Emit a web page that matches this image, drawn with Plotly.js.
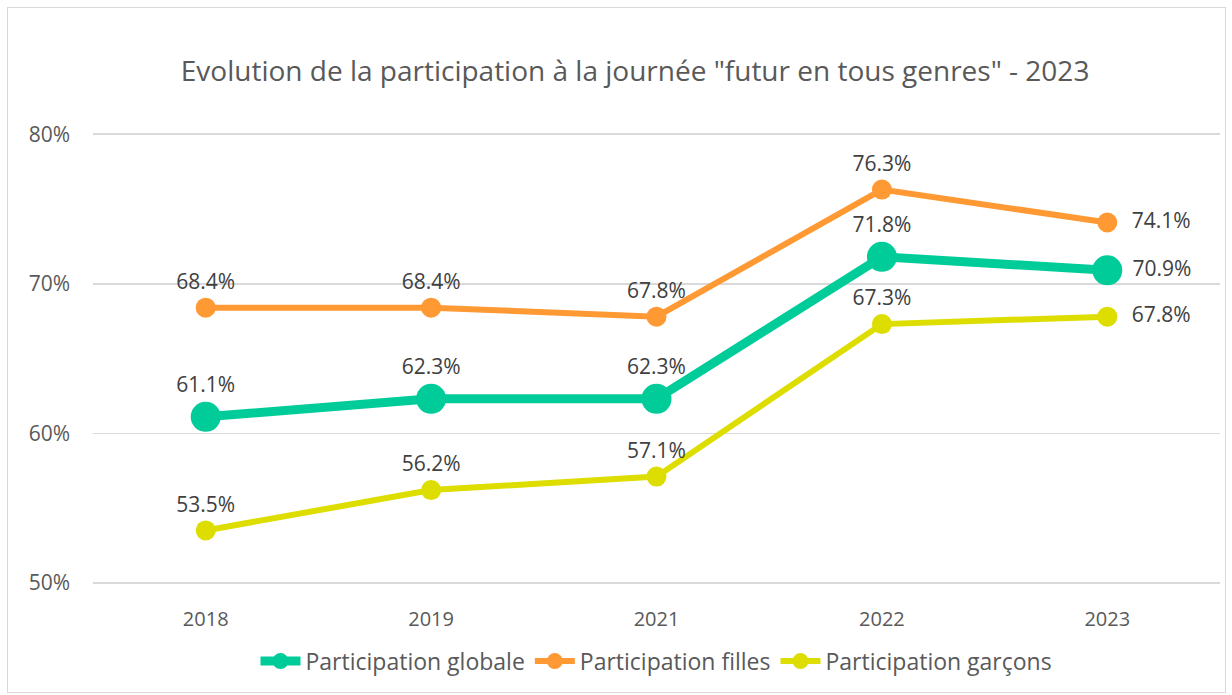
<!DOCTYPE html>
<html>
<head>
<meta charset="utf-8">
<script src="https://cdn.plot.ly/plotly-3.0.1.min.js"></script>
<style>
html,body{margin:0;padding:0;background:#fff;}
#chart{width:1232px;height:695px;}
#frame{position:absolute;left:7px;top:7px;width:1217px;height:684px;border:1px solid #d9d9d9;pointer-events:none;}
</style>
</head>
<body>
<div id="chart"></div>
<div id="frame"></div>
<script>
const years = ['2018', '2019', '2021', '2022', '2023'];
const globale = [61.1, 62.3, 62.3, 71.8, 70.9];
const filles = [68.4, 68.4, 67.8, 76.3, 74.1];
const garcons = [53.5, 56.2, 57.1, 67.3, 67.8];
const seriesNames = ['Participation globale', 'Participation filles', 'Participation garçons'];
const yTicks = [50, 60, 70, 80];

const FONT = 'Open Sans, sans-serif';
const positions = ['top center', 'top center', 'top center', 'top center', 'middle right'];
const NB = '\u00a0';

function tr(name, y, color, lw, ms, pad) {
  const last = y.length - 1;
  return {
    x: years, y: y, name: name, type: 'scatter', mode: 'lines+markers+text',
    line: {color: color, width: lw},
    marker: {color: color, size: ms},
    text: y.map((v, i) => (i === last ? NB.repeat(pad) : '') + v.toFixed(1) + '%'),
    textposition: positions,
    textfont: {family: FONT, size: 21, color: '#404040'},
    cliponaxis: false,
    hoverinfo: 'skip'
  };
}

const data = [
  tr(seriesNames[0], globale, '#00CC99', 9, 30, 1),
  tr(seriesNames[1], filles, '#FF9933', 6, 20, 2),
  tr(seriesNames[2], garcons, '#DDDD00', 6, 20, 2)
];

const layout = {
  width: 1232, height: 695,
  margin: {l: 93, r: 12, t: 132, b: 108},
  paper_bgcolor: '#ffffff', plot_bgcolor: '#ffffff',
  font: {family: FONT, color: '#595959'},
  title: {text: 'Evolution de la participation à la journée "futur en tous genres" - 2023',
          font: {family: FONT, size: 28, color: '#595959'},
          x: 0.5155, xanchor: 'center', y: 0.897, yanchor: 'middle', yref: 'container'},
  xaxis: {type: 'category', range: [-0.5, 4.5], showgrid: false, zeroline: false, showline: false,
          ticks: '', ticklabelstandoff: 20, tickfont: {family: FONT, size: 20, color: '#595959'}},
  yaxis: {range: [49.85, 80.15], tickvals: yTicks, ticktext: yTicks.map(v => v + '%'),
          showgrid: true, gridcolor: '#d9d9d9', gridwidth: 1.5, zeroline: false, showline: false,
          ticks: '', ticklabelstandoff: 22, tickfont: {family: FONT, size: 21, color: '#595959'}},
  showlegend: true,
  legend: {orientation: 'h', x: 0.5, xanchor: 'center', y: -0.168, yanchor: 'middle',
           font: {family: FONT, size: 23, color: '#595959'}, itemwidth: 40},
  hovermode: false
};

Plotly.newPlot('chart', data, layout, {displayModeBar: false, staticPlot: true});
</script>
</body>
</html>
